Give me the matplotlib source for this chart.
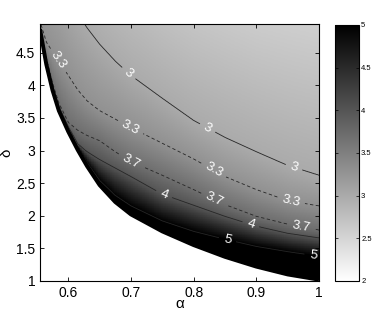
import numpy as np
import matplotlib
matplotlib.use('Agg')
import matplotlib.pyplot as plt
from matplotlib.ticker import FuncFormatter

plt.rcParams['font.family'] = ['Liberation Sans', 'DejaVu Sans']

alpha = [0.555, 0.565, 0.575, 0.585, 0.60, 0.615, 0.63, 0.65, 0.675, 0.70,
         0.75, 0.80, 0.85, 0.90, 0.95, 1.00]
# lower edge of the feasible region (thick black curve)
delta_edge = [4.86, 4.32, 3.92, 3.61, 3.29, 3.01, 2.76, 2.47, 2.21, 2.02,
              1.76, 1.55, 1.37, 1.22, 1.10, 1.02]
# delta of each level curve
delta_5 = [4.88, 4.35, 3.95, 3.64, 3.32, 3.05, 2.81, 2.54, 2.31, 2.15,
           1.92, 1.76, 1.64, 1.53, 1.45, 1.38]
delta_4 = [4.90, 4.38, 3.98, 3.67, 3.36, 3.10, 2.98, 2.86, 2.73, 2.60,
           2.33, 2.16, 1.99, 1.84, 1.73, 1.66]
delta_37 = [4.92, 4.41, 4.02, 3.72, 3.43, 3.31, 3.23, 3.15, 2.98, 2.83,
            2.62, 2.40, 2.17, 1.99, 1.87, 1.78]
delta_33 = [4.96, 4.66, 4.51, 4.37, 4.15, 3.93, 3.76, 3.61, 3.48, 3.35,
            3.11, 2.87, 2.60, 2.40, 2.23, 2.15]
delta_3 = [6.30, 6.10, 5.90, 5.70, 5.35, 5.10, 4.88, 4.63, 4.37, 4.15,
           3.80, 3.46, 3.20, 2.98, 2.77, 2.62]
delta_25 = [9.0, 8.8, 8.6, 8.4, 8.0, 7.7, 7.45, 7.1, 6.85, 6.6,
            6.2, 5.9, 5.7, 5.5, 5.4, 5.3]
level_values = [5.8, 5.0, 4.0, 3.7, 3.3, 3.0, 2.5]

contour_levels = [3, 3.3, 3.7, 4, 5]
label_spots = [(0.696, 4.18), (0.822, 3.34), (0.96, 2.74),
               (0.584, 4.38), (0.699, 3.35), (0.830, 2.67), (0.955, 2.21),
               (0.699, 2.82), (0.832, 2.24), (0.971, 1.83),
               (0.752, 2.31), (0.891, 1.86),
               (0.854, 1.63), (0.99, 1.37)]

# field on a fine grid from the level curves
a = np.linspace(0.555, 1.0, 400)
d = np.linspace(1.0, 4.95, 400)
curves = [np.interp(a, alpha, c) for c in
          (delta_edge, delta_5, delta_4, delta_37, delta_33, delta_3, delta_25)]
Z = np.empty((len(d), len(a)))
for j in range(len(a)):
  xp = [c[j] for c in curves]
  Z[:, j] = np.interp(d, xp, level_values)
  Z[d < curves[0][j], j] = np.nan
Z = np.ma.masked_invalid(Z)

fig = plt.figure(figsize=(3.74, 3.15), dpi=100)
ax = fig.add_axes([0.107, 0.108, 0.746, 0.816])
cax = fig.add_axes([0.896, 0.108, 0.064, 0.813])

mesh = ax.pcolormesh(a, d, Z, cmap='gray_r', vmin=2, vmax=5, shading='nearest', rasterized=True)
cs = ax.contour(a, d, Z, levels=contour_levels, colors='0.15', linewidths=0.6,
                linestyles=['-', (0, (4, 3)), (0, (4, 3)), '-', '-'])
ax.clabel(cs, manual=label_spots, inline=True, fmt='%g', fontsize=9.5, colors='white')
ax.plot(alpha, delta_edge, color='black', lw=2.8, solid_capstyle='butt')

ax.set_xlim(0.555, 1.0)
ax.set_ylim(1, 4.94)
ax.set_xticks([0.6, 0.7, 0.8, 0.9, 1.0])
ax.set_yticks([1, 1.5, 2, 2.5, 3, 3.5, 4, 4.5])
fmt = FuncFormatter(lambda v, p: '%g' % v)
ax.xaxis.set_major_formatter(fmt)
ax.yaxis.set_major_formatter(fmt)
ax.tick_params(direction='in', top=True, right=True, labelsize=10, length=3, width=0.6)
ax.set_xlabel('α', fontsize=11, labelpad=-2)
ax.set_ylabel('δ', fontsize=11, labelpad=2)
for s in ax.spines.values():
  s.set_linewidth(0.8)

cb = fig.colorbar(mesh, cax=cax, ticks=[2, 2.5, 3, 3.5, 4, 4.5, 5])
cb.formatter = fmt
cb.update_ticks()
cax.tick_params(direction='in', left=True, right=True, labelsize=5.5, length=2, width=0.5, pad=1.5)
cb.outline.set_linewidth(0.8)

fig.savefig('out.png', dpi=100)
